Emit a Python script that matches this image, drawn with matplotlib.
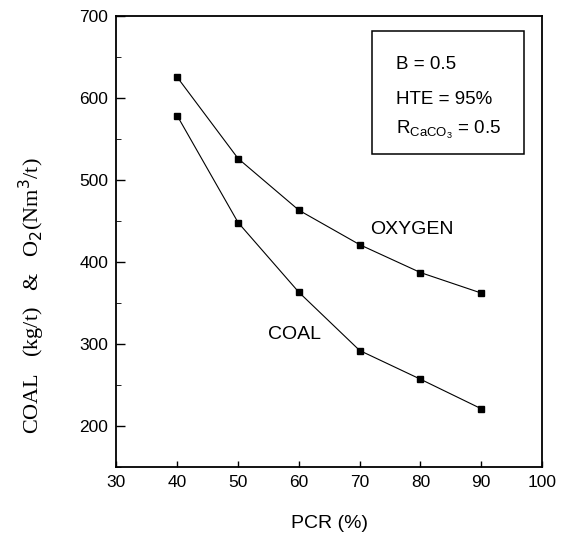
import matplotlib.pyplot as plt
from matplotlib.ticker import MultipleLocator

pcr = [40, 50, 60, 70, 80, 90]
oxygen = [625, 526, 463, 421, 387, 362]
coal = [578, 448, 363, 292, 257, 221]

plt.rcParams['font.family'] = ['Liberation Sans', 'DejaVu Sans']

fig = plt.figure(figsize=(5.69, 5.45), dpi=100)
ax = fig.add_axes([0.2047, 0.1431, 0.748, 0.828])

ax.plot(pcr, oxygen, color='black', lw=0.8, marker='s', ms=4)
ax.plot(pcr, coal, color='black', lw=0.8, marker='s', ms=4)

ax.set_xlim(30, 100)
ax.set_ylim(150, 700)
ax.set_xticks(range(30, 101, 10))
ax.set_yticks(range(200, 701, 100))
ax.yaxis.set_minor_locator(MultipleLocator(50))
ax.tick_params(direction='in', labelsize=12.5, width=1, pad=6)
ax.tick_params(axis='x', length=4)
ax.tick_params(axis='y', length=6.5)
ax.tick_params(which='minor', direction='in', length=3.5)
for s in ax.spines.values():
    s.set_linewidth(1.3)

ax.set_xlabel('PCR (%)', fontsize=14, labelpad=18)
ax.set_ylabel(r'COAL   (kg/t)   &   O$_2$(Nm$^3$/t)', fontsize=16,
              family=['Liberation Serif', 'DejaVu Serif'])
ax.yaxis.set_label_coords(-0.163, 0.38)

ax.text(71.7, 440, 'OXYGEN', fontsize=14, va='center')
ax.text(55, 312, 'COAL', fontsize=14, va='center')

box = plt.Rectangle((72.0, 532), 25.1, 149, fill=False, lw=1.1, color='black')
ax.add_patch(box)
ax.text(75.9, 640, 'B = 0.5', fontsize=13.5, va='center')
ax.text(75.9, 598, 'HTE = 95%', fontsize=13.5, va='center')
ax.text(75.9, 561, r'R$_{\mathregular{CaCO_3}}$ = 0.5', fontsize=13.5, va='center')

fig.savefig('out.png', dpi=100)
